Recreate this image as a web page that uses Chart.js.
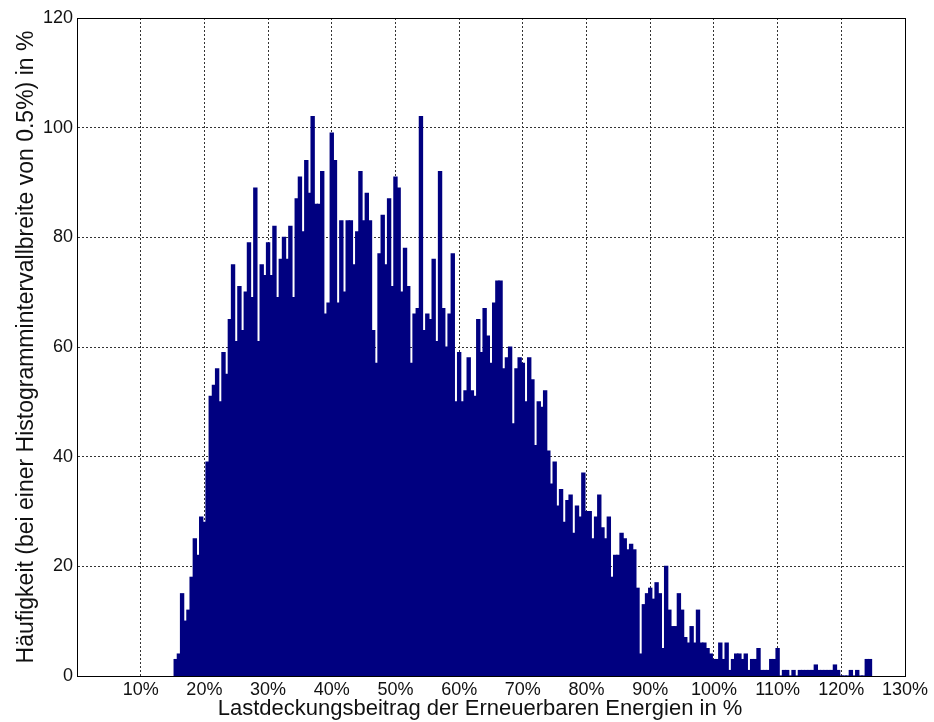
<!DOCTYPE html>
<html>
<head>
<meta charset="utf-8">
<script src="https://cdn.jsdelivr.net/npm/chart.js@4.4.1/dist/chart.umd.min.js"></script>
<style>
body { margin: 0; background: #fff; }
#chart_box { width: 934px; height: 722px; }
</style>
</head>
<body>
<div id="chart_box"><canvas id="hist_chart" width="934" height="722"></canvas></div>
<script>
// histogram, bin width 0.5 %, first bin centred at 15.5 %
var bin_start = 15.5;
var bin_width = 0.5;

var counts_15_to_33 = [3, 4, 15, 10, 12, 18, 25, 22, 29, 28, 39, 51, 53, 56, 50, 59, 55, 65, 75, 61,
    71, 63, 70, 79, 69, 89, 61, 75, 73, 79, 73, 82, 69, 76, 80, 76];
var counts_33_to_52 = [82, 69, 87, 91, 81, 94, 88, 102, 86, 86, 92, 66, 68, 99, 94, 68, 83, 70, 83, 83,
    75, 81, 92, 83, 88, 83, 63, 57, 77, 84, 75, 87, 71, 91, 89, 70, 78, 71];
var counts_52_to_65 = [57, 66, 67, 102, 63, 66, 65, 76, 61, 92, 67, 60, 66, 77, 50, 59, 50, 52, 58, 52,
    51, 65, 59, 67, 62];
var counts_65_to_77 = [57, 68, 72, 72, 56, 58, 60, 46, 56, 58, 57, 50, 58, 54, 42, 50, 49, 52, 41, 35,
    39, 31, 34, 28, 32];
var counts_77_to_91 = [33, 26, 31, 29, 37, 30, 30, 25, 29, 33, 27, 25, 29, 18, 22, 22, 26, 25, 23, 24,
    23, 16, 4, 13, 15, 16, 14];
var counts_91_to_104 = [17, 15, 5, 20, 12, 9, 9, 15, 12, 7, 6, 9, 6, 12, 6, 6, 5, 4, 3, 3,
    6, 3, 6, 1, 3, 4];
var counts_104_to_125 = [4, 3, 4, 1, 3, 3, 5, 1, 1, 1, 3, 3, 5, 0, 1, 1, 0, 1, 0, 1,
    1, 1, 1, 1, 2, 1, 1, 1, 1, 1, 2, 1, 0, 0, 0, 1, 0, 1, 0, 0, 3, 3];

var x_min = 0, x_max = 130, x_step = 10;
var y_min = 0, y_max = 120, y_step = 20;
var x_title = "Lastdeckungsbeitrag der Erneuerbaren Energien in %";
var y_title = "Häufigkeit (bei einer Histogrammintervallbreite von 0.5%) in %";

var all_counts = [].concat(counts_15_to_33, counts_33_to_52, counts_52_to_65,
    counts_65_to_77, counts_77_to_91, counts_91_to_104, counts_104_to_125);

var hist_points = [];
for (var i = 0; i < all_counts.length; i++) {
    hist_points.push({x: bin_start + i * bin_width, y: all_counts[i]});
}

var font_family = "'Liberation Sans', Arial, sans-serif";

// matlab style box around the axes
var frame_plugin = {
    id: "frame",
    afterDraw: function(chart) {
        var a = chart.chartArea;
        var ctx = chart.ctx;
        ctx.save();
        ctx.strokeStyle = "#000";
        ctx.lineWidth = 1;
        ctx.strokeRect(Math.round(a.left) + 0.5, Math.round(a.top) + 0.5,
            Math.round(a.right - a.left), Math.round(a.bottom - a.top));
        ctx.restore();
    }
};

var ctx = document.getElementById("hist_chart");
var hist_chart = new Chart(ctx, {
    type: "bar",
    data: {
        datasets: [{
            label: "Häufigkeit",
            data: hist_points,
            backgroundColor: "#000080",
            borderWidth: 0,
            barPercentage: 1.0,
            categoryPercentage: 1.0,
            inflateAmount: 0.6
        }]
    },
    options: {
        responsive: false,
        animation: false,
        events: [],
        layout: {padding: {top: 18, right: 29, left: 0, bottom: 0}},
        plugins: {
            legend: {display: false},
            tooltip: {enabled: false}
        },
        scales: {
            x: {
                type: "linear",
                min: x_min,
                max: x_max,
                offset: false,
                grid: {offset: false, color: "#333", drawTicks: false},
                border: {display: true, color: "#000", dash: [2, 2]},
                ticks: {
                    stepSize: x_step,
                    padding: 3,
                    color: "#111",
                    font: {family: font_family, size: 18},
                    maxRotation: 0,
                    callback: function(v) { return v === 0 ? "" : v + "%"; }
                },
                title: {
                    display: true,
                    // trailing em space nudges the centred label left like the original
                    text: x_title + "\u2003",
                    color: "#111",
                    font: {family: font_family, size: 22},
                    padding: {top: 0, bottom: 0}
                },
                afterFit: function(scale) {
                    scale.height = 46;
                    scale.paddingLeft = 0;
                    scale.paddingRight = 0;
                }
            },
            y: {
                min: y_min,
                max: y_max,
                grid: {color: "#333", drawTicks: false},
                border: {display: true, color: "#000", dash: [2, 2]},
                ticks: {
                    stepSize: y_step,
                    padding: 4,
                    color: "#111",
                    font: {family: font_family, size: 18}
                },
                title: {
                    display: true,
                    text: y_title,
                    color: "#111",
                    font: {family: font_family, size: 23},
                    padding: {top: 13, bottom: 0}
                },
                afterFit: function(scale) {
                    scale.width = 77;
                    scale.paddingTop = 0;
                    scale.paddingBottom = 0;
                }
            }
        }
    },
    plugins: [frame_plugin]
});
</script>
</body>
</html>
